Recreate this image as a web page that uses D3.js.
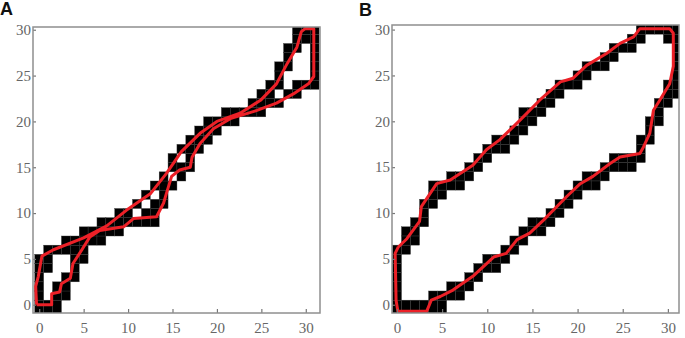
<!DOCTYPE html>
<html>
<head>
<meta charset="utf-8">
<script src="https://cdn.jsdelivr.net/npm/d3@7"></script>
<style>
  body { margin: 0; background: #fff; }
  svg { display: block; }
</style>
</head>
<body>
<div id="chart"></div>
<script>
// tick values on both axes
var tickValues = [0, 5, 10, 15, 20, 25, 30];

// black cells, as [column, first row, last row]
var cellsA = [
  [0, 0, 5],
  [1, 0, 0], [1, 4, 6],
  [2, 0, 2], [2, 6, 6],
  [3, 1, 3], [3, 6, 7],
  [4, 3, 7],
  [5, 5, 8],
  [6, 7, 8],
  [7, 7, 9],
  [8, 8, 9],
  [9, 8, 10],
  [10, 9, 10],
  [11, 9, 9], [11, 11, 11],
  [12, 9, 10], [12, 12, 12],
  [13, 9, 11], [13, 13, 13],
  [14, 11, 14],
  [15, 13, 13], [15, 15, 16],
  [16, 14, 15], [16, 17, 17],
  [17, 15, 18],
  [18, 17, 19],
  [19, 18, 20],
  [20, 19, 20],
  [21, 20, 21],
  [22, 20, 21],
  [23, 21, 21],
  [24, 21, 22],
  [25, 21, 23],
  [26, 22, 24],
  [27, 22, 22], [27, 24, 26],
  [28, 23, 23], [28, 26, 28],
  [29, 23, 24], [29, 28, 30],
  [30, 24, 24], [30, 29, 30],
  [31, 24, 30]
];

var cellsB = [
  [0, 0, 6],
  [1, 0, 0], [1, 6, 8],
  [2, 0, 0], [2, 7, 9],
  [3, 0, 0], [3, 9, 11],
  [4, 0, 1], [4, 11, 13],
  [5, 0, 1], [5, 12, 13],
  [6, 1, 2], [6, 13, 14],
  [7, 1, 2], [7, 13, 14],
  [8, 2, 3], [8, 14, 15],
  [9, 3, 4], [9, 15, 16],
  [10, 4, 5], [10, 16, 17],
  [11, 4, 5], [11, 17, 18],
  [12, 5, 6], [12, 17, 18],
  [13, 6, 7], [13, 18, 19],
  [14, 7, 8], [14, 19, 21],
  [15, 8, 9], [15, 20, 21],
  [16, 8, 9], [16, 21, 22],
  [17, 9, 10], [17, 22, 23],
  [18, 10, 11], [18, 23, 24],
  [19, 11, 12], [19, 24, 24],
  [20, 12, 13], [20, 24, 25],
  [21, 13, 14], [21, 25, 26],
  [22, 13, 14], [22, 26, 26],
  [23, 14, 15], [23, 26, 27],
  [24, 15, 16], [24, 27, 28],
  [25, 15, 16], [25, 28, 28],
  [26, 15, 16], [26, 28, 29],
  [27, 16, 18], [27, 29, 30],
  [28, 18, 20], [28, 30, 30],
  [29, 20, 22], [29, 30, 30],
  [30, 22, 24], [30, 29, 30],
  [31, 23, 30]
];

// red traced outline, [x, y]
var lineA = [[-0.3,0],[-0.4,2],[-0.1,3.1],[0.3,5.3],[1.6,6.0],[5.0,7.3],[7.6,8.6],[9.8,10.3],
  [12.5,12.1],[14.3,14.3],[16.0,16.7],[18.1,18.7],[20.0,20.0],[22.6,20.9],[24.9,22.3],[26.7,24.1],
  [27.9,26.3],[29.0,28.1],[29.5,29.8],[29.9,30.1],[30.9,30.1],[30.9,24.9],[30.3,24.1],[28.6,23.0],
  [26.7,22.0],[24.5,21.2],[21.5,20.3],[19.6,19.2],[18.1,17.6],[17.2,16.1],[17.0,15.0],[15.8,14.7],
  [14.9,14.0],[14.3,12.1],[14.0,11.1],[13.2,9.6],[10.6,9.4],[9.5,8.5],[6.8,8.1],[5.7,7.4],[4.8,6.0],
  [3.8,4.5],[3.5,2.9],[2.5,2.3],[2.3,1.4],[1.4,1.2],[1.4,0],[-0.3,0]];

var lineB = [[0.15,6.3],[1.1,7.2],[2.5,9.1],[2.7,10.7],[4.4,13.2],[5.9,13.6],[8.4,15.2],[9.9,16.9],
  [11.4,18.0],[13.6,20.1],[15.8,22.3],[18.1,24.3],[19.5,24.7],[21.0,26.1],[23.2,27.4],[24.7,28.5],
  [26.2,29.2],[26.9,30.1],[30.2,30.1],[30.6,29.6],[30.6,26],[30.2,24.1],[29.1,22.3],[28.4,21.2],
  [28,18.7],[27.3,17.2],[26.9,16.5],[24.7,16.1],[23.6,15.4],[21.7,14.0],[20.3,13.2],[18.8,11.8],
  [16.2,9.2],[14.7,7.8],[13.3,7.1],[12.1,5.6],[10.7,5.2],[8.4,3.1],[6.2,1.6],[4.8,0.9],[3.8,0.5],
  [3.3,-0.7],[0.1,-0.7],[-0.1,0.5],[-0.2,5.6],[0.15,6.3]];

var svg = d3.select("#chart").append("svg")
  .attr("width", 685)
  .attr("height", 338);

function drawPanel(id, label, cells, line, box, xDomain, yDomain, labelPos) {
  var x = d3.scaleLinear().domain(xDomain).range([box.left, box.right]);
  var y = d3.scaleLinear().domain(yDomain).range([box.bottom, box.top]);

  svg.append("clipPath").attr("id", "clip" + id)
    .append("rect")
      .attr("x", box.left).attr("y", box.top)
      .attr("width", box.right - box.left)
      .attr("height", box.bottom - box.top);

  var g = svg.append("g").attr("clip-path", "url(#clip" + id + ")");

  // expand column ranges into single cells
  var flat = [];
  cells.forEach(function(c) {
    for (var r = c[1]; r <= c[2]; r++) flat.push([c[0], r]);
  });

  g.selectAll("rect.cell")
    .data(flat)
    .enter().append("rect")
      .attr("class", "cell")
      .attr("x", function(d) { return x(d[0] - 0.5); })
      .attr("width", x(1) - x(0))
      .attr("y", function(d) { return y(d[1] + 0.5); })
      .attr("height", function(d) {
        // bottom row runs down to the frame
        var lo = d[1] === 0 ? yDomain[0] : d[1] - 0.5;
        return y(lo) - y(d[1] + 0.5);
      })
      .attr("fill", "#000")
      .attr("stroke", "#3a3a3a")
      .attr("stroke-width", 0.4);

  g.append("path")
    .datum(line)
    .attr("fill", "none")
    .attr("stroke", "#ec2027")
    .attr("stroke-width", 3)
    .attr("stroke-linejoin", "round")
    .attr("d", d3.line().x(function(d) { return x(d[0]); }).y(function(d) { return y(d[1]); }));

  // axes
  var xAxis = svg.append("g")
    .attr("transform", "translate(0," + box.bottom + ")")
    .call(d3.axisBottom(x).tickValues(tickValues).tickSize(-4).tickPadding(9));
  var yAxis = svg.append("g")
    .attr("transform", "translate(" + box.left + ",0)")
    .call(d3.axisLeft(y).tickValues(tickValues).tickSize(-3).tickPadding(2));
  [xAxis, yAxis].forEach(function(a) {
    a.select(".domain").remove();
    a.selectAll(".tick line").attr("stroke", "#777").attr("stroke-width", 1.2);
    a.selectAll(".tick text")
      .style("font-family", "'Liberation Serif', 'DejaVu Serif', serif")
      .style("font-size", "15px")
      .style("fill", "#666");
  });

  svg.append("rect")
    .attr("x", box.left).attr("y", box.top)
    .attr("width", box.right - box.left)
    .attr("height", box.bottom - box.top)
    .attr("fill", "none")
    .attr("stroke", "#8f8f8f")
    .attr("stroke-width", 1.5);

  svg.append("text")
    .attr("x", labelPos[0]).attr("y", labelPos[1])
    .attr("font-family", "Liberation Sans, Arial, sans-serif")
    .attr("font-weight", "bold")
    .attr("font-size", 18)
    .attr("fill", "#111")
    .text(label);
}

drawPanel("A", "A", cellsA, lineA,
  {left: 33, right: 320, top: 27, bottom: 313}, [-0.7, 31.6], [-0.9, 30.3], [0, 15]);
drawPanel("B", "B", cellsB, lineB,
  {left: 392, right: 679, top: 25, bottom: 313}, [-0.55, 31.23], [-0.9, 30.5], [359, 16]);
</script>
</body>
</html>
